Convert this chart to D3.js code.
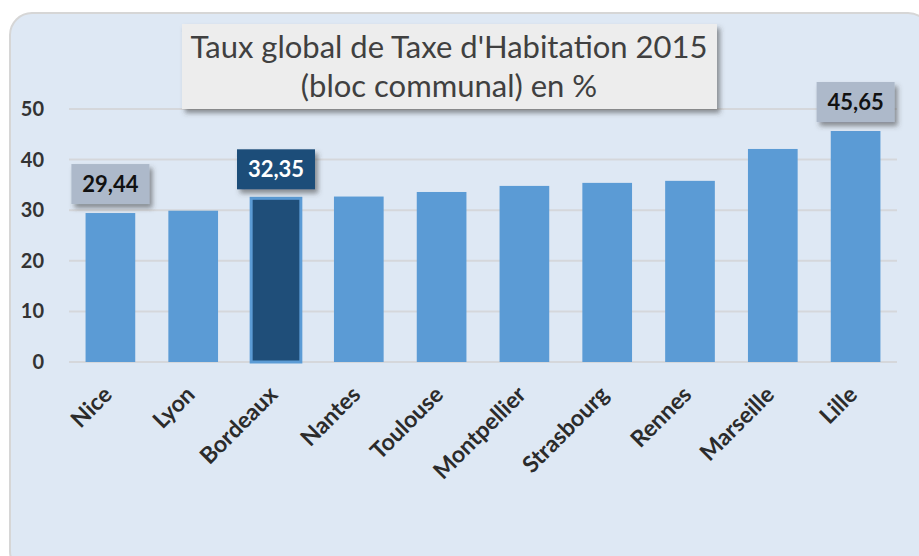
<!DOCTYPE html>
<html>
<head>
<meta charset="utf-8">
<script src="https://cdn.jsdelivr.net/npm/d3@7"></script>
<style>
  body { margin: 0; background: #fff; }
  svg { display: block; font-family: Lato, "Open Sans", sans-serif; }
</style>
</head>
<body>
<script>
var cities = ["Nice", "Lyon", "Bordeaux", "Nantes", "Toulouse", "Montpellier", "Strasbourg", "Rennes", "Marseille", "Lille"];
var taux = [29.44, 29.9, 32.35, 32.7, 33.6, 34.8, 35.4, 35.8, 42.1, 45.65];
var labelled = ["Nice", "Bordeaux", "Lille"];
var highlight = "Bordeaux";
var yTicks = [0, 10, 20, 30, 40, 50];
var titleLines = ["Taux global de Taxe d'Habitation 2015", "(bloc communal) en %"];

var width = 919, height = 556;
var margin = { top: 109, right: 22, bottom: 194, left: 69 };

var svg = d3.select("body").append("svg")
    .attr("width", width)
    .attr("height", height);

var defs = svg.append("defs");
var f = defs.append("filter").attr("id", "shadow")
    .attr("x", "-20%").attr("y", "-20%").attr("width", "150%").attr("height", "160%");
f.append("feDropShadow")
    .attr("dx", 3).attr("dy", 4).attr("stdDeviation", 2.5)
    .attr("flood-color", "#404040").attr("flood-opacity", 0.55);

// chart area
svg.append("rect")
    .attr("x", 10).attr("y", 13)
    .attr("width", 920).attr("height", 560)
    .attr("rx", 22)
    .attr("fill", "#dee8f4")
    .attr("stroke", "#d6d6d6")
    .attr("stroke-width", 2);

var x = d3.scaleBand()
    .domain(cities)
    .range([margin.left, width - margin.right])
    .paddingInner(0.4)
    .paddingOuter(0.2);

var y = d3.scaleLinear()
    .domain([0, 50])
    .range([height - margin.bottom, margin.top]);

// grid
svg.append("g").selectAll("line")
    .data(yTicks)
    .enter().append("line")
    .attr("x1", margin.left)
    .attr("x2", width - margin.right)
    .attr("y1", function(d) { return y(d); })
    .attr("y2", function(d) { return y(d); })
    .attr("stroke", "#d5d7db")
    .attr("stroke-width", 2);

var yAxis = svg.append("g")
    .attr("transform", "translate(" + (margin.left - 25) + ",0)")
    .call(d3.axisLeft(y).tickValues(yTicks).tickSize(0).tickPadding(0));
yAxis.select(".domain").remove();
yAxis.selectAll("text")
    .style("font-size", "20px")
    .style("font-weight", "bold")
    .style("font-family", "Lato, sans-serif")
    .attr("fill", "#333");

// bars
svg.append("g").selectAll("rect")
    .data(cities)
    .enter().append("rect")
    .attr("x", function(d) { return x(d); })
    .attr("width", x.bandwidth())
    .attr("y", function(d, i) { return y(taux[i]); })
    .attr("height", function(d, i) { return y(0) - y(taux[i]); })
    .attr("fill", function(d) { return d === highlight ? "#1f4e79" : "#5b9bd5"; })
    .attr("stroke", function(d) { return d === highlight ? "#5b9bd5" : "none"; })
    .attr("stroke-width", 3);

// x labels
svg.append("g").selectAll("text")
    .data(cities)
    .enter().append("text")
    .attr("transform", function(d) {
      return "translate(" + (x(d) + x.bandwidth() / 2 + 3) + "," + (y(0) + 34) + ") rotate(-45)";
    })
    .attr("text-anchor", "end")
    .style("font-size", "23px")
    .style("font-weight", "bold")
    .attr("fill", "#2b2b2b")
    .text(function(d) { return d; });

// data labels
var lab = svg.append("g").selectAll("g")
    .data(cities.filter(function(d) { return labelled.indexOf(d) >= 0; }))
    .enter().append("g")
    .attr("transform", function(d) {
      var v = taux[cities.indexOf(d)];
      return "translate(" + (x(d) + x.bandwidth() / 2) + "," + (y(v) - 9) + ")";
    });
lab.append("rect")
    .attr("x", -39).attr("y", -40)
    .attr("width", 78).attr("height", 40)
    .attr("fill", function(d) { return d === highlight ? "#1f4e79" : "#adb9ca"; })
    .attr("filter", "url(#shadow)");
lab.append("text")
    .attr("y", -12)
    .attr("text-anchor", "middle")
    .style("font-size", "22px")
    .style("font-weight", "bold")
    .attr("fill", function(d) { return d === highlight ? "#fff" : "#111"; })
    .text(function(d) { return String(taux[cities.indexOf(d)]).replace(".", ","); });

// title
svg.append("rect")
    .attr("x", 182).attr("y", 24)
    .attr("width", 535).attr("height", 85)
    .attr("fill", "#ededed")
    .attr("filter", "url(#shadow)");
svg.append("g").selectAll("text")
    .data(titleLines)
    .enter().append("text")
    .attr("x", 449)
    .attr("y", function(d, i) { return 58 + i * 39; })
    .attr("text-anchor", "middle")
    .style("font-size", "31px")
    .attr("fill", "#404040")
    .text(function(d) { return d; });
</script>
</body>
</html>
